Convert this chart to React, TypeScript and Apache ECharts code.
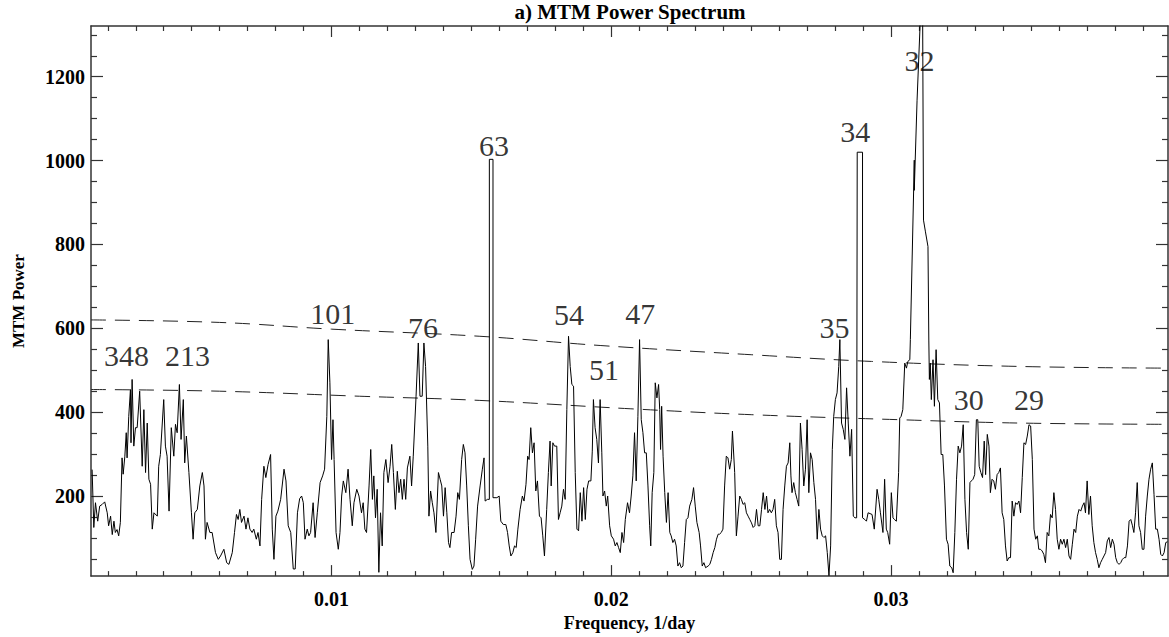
import { useEffect, useRef } from "react";
import * as echarts from "echarts";

const X_MIN = 0.0014;
const X_MAX = 0.0399;
const Y_MIN = 9;
const Y_MAX = 1321;

const X_MAJOR = [0.01, 0.02, 0.03];
const X_MINOR = [
  0.002, 0.003, 0.004, 0.005, 0.006, 0.007, 0.008, 0.009, 0.011, 0.012, 0.013,
  0.014, 0.015, 0.016, 0.017, 0.018, 0.019, 0.021, 0.022, 0.023, 0.024, 0.025,
  0.026, 0.027, 0.028, 0.029, 0.031, 0.032, 0.033, 0.034, 0.035, 0.036, 0.037,
  0.038, 0.039,
];
const Y_MAJOR = [200, 400, 600, 800, 1000, 1200];
const Y_MINOR = [
  50, 100, 150, 250, 300, 350, 450, 500, 550, 650, 700, 750, 850, 900, 950,
  1050, 1100, 1150, 1250, 1300,
];

const TITLE = "a) MTM Power Spectrum";
const X_NAME = "Frequency, 1/day";
const Y_NAME = "MTM Power";

// MTM power spectrum, [frequency (1/day), power]
const SPEC_A = [
  [0.00144, 263], [0.0015, 125], [0.00156, 184], [0.00164, 140], [0.00171, 176], [0.0018, 180],
  [0.00189, 186], [0.00198, 160], [0.00203, 129], [0.0021, 152], [0.00216, 108], [0.00222, 140],
  [0.00227, 113], [0.00233, 120], [0.00239, 105], [0.00245, 137], [0.00251, 291], [0.00255, 252],
  [0.00261, 295], [0.00266, 351], [0.00269, 291], [0.00275, 390], [0.00281, 454], [0.00283, 327],
  [0.00287, 478], [0.00293, 319], [0.00299, 363], [0.00305, 363], [0.00314, 450], [0.00323, 271],
  [0.00329, 406], [0.00335, 256], [0.00341, 374], [0.00347, 240], [0.00353, 228], [0.00359, 121],
  [0.00365, 160], [0.00377, 152], [0.00382, 271], [0.00388, 299], [0.004, 430], [0.00406, 319],
  [0.00412, 295], [0.00419, 164], [0.00427, 363], [0.00436, 295], [0.00442, 371], [0.00448, 351],
  [0.00456, 466], [0.00462, 335], [0.0047, 430], [0.00475, 279], [0.00481, 343], [0.0049, 256],
  [0.00499, 160], [0.00505, 97], [0.00511, 160], [0.0052, 168], [0.00529, 224], [0.00538, 256],
  [0.00544, 224], [0.00549, 97], [0.00555, 137], [0.00565, 113], [0.00573, 113], [0.00585, 65],
  [0.00595, 49], [0.00603, 57], [0.00615, 73], [0.00625, 41], [0.00633, 37], [0.00645, 65],
  [0.00653, 113], [0.0066, 156], [0.00666, 144], [0.00672, 168], [0.00678, 137], [0.00687, 152],
  [0.00694, 121], [0.00701, 148], [0.00708, 121], [0.00716, 113], [0.00722, 121], [0.00731, 97],
  [0.00737, 113], [0.00744, 81], [0.0075, 192], [0.00758, 271], [0.00765, 244], [0.00773, 275],
  [0.00782, 299], [0.00788, 121], [0.00794, 49], [0.00801, 152], [0.00808, 164], [0.00818, 192],
  [0.0083, 264], [0.00837, 236], [0.00845, 129], [0.00854, 113], [0.00863, 26], [0.0087, 26],
  [0.00878, 160], [0.00886, 194], [0.00893, 200], [0.00899, 184], [0.00905, 97], [0.00913, 121],
  [0.00919, 105], [0.00925, 113], [0.00934, 184], [0.00941, 101], [0.00949, 160], [0.00959, 232],
  [0.00968, 248], [0.00975, 264], [0.00983, 390], [0.00988, 573], [0.00994, 470], [0.01, 287],
  [0.01005, 382], [0.01009, 287], [0.01016, 113], [0.01024, 73], [0.0103, 113], [0.01036, 200],
  [0.01042, 236], [0.01051, 208], [0.01059, 264], [0.01066, 192], [0.01074, 129], [0.0108, 184],
  [0.0109, 216], [0.01098, 200],
];
const SPEC_B = [
  [0.01107, 160], [0.01113, 184], [0.01119, 121], [0.01125, 113], [0.01134, 224], [0.0114, 311],
  [0.01146, 192], [0.01151, 248], [0.01157, 148], [0.01163, 216], [0.01169, 18], [0.01175, 160],
  [0.01181, 81], [0.01187, 256], [0.01194, 287], [0.01202, 232], [0.01209, 271], [0.01215, 323],
  [0.01221, 256], [0.01228, 168], [0.01235, 259], [0.01241, 208], [0.01247, 240], [0.01253, 192],
  [0.01259, 240], [0.01265, 192], [0.01271, 267], [0.0128, 295], [0.01286, 224], [0.01292, 295],
  [0.01302, 438], [0.0131, 565], [0.01316, 438], [0.01324, 438], [0.0133, 565], [0.01336, 509],
  [0.01344, 319], [0.01348, 152], [0.01354, 212], [0.0136, 184], [0.01366, 160], [0.01373, 113],
  [0.01382, 256], [0.01388, 240], [0.01394, 224], [0.014, 152], [0.01406, 220], [0.01412, 160],
  [0.01418, 89], [0.01423, 77], [0.01429, 113], [0.01438, 113], [0.01445, 152], [0.01451, 208],
  [0.01457, 192], [0.01465, 287], [0.01471, 323], [0.01477, 303], [0.01483, 224], [0.01489, 129],
  [0.01495, 49], [0.01503, 25], [0.01509, 33], [0.01515, 97], [0.01522, 176], [0.01531, 224],
  [0.01539, 264], [0.01545, 291], [0.01549, 188], [0.01557, 192], [0.01564, 192], [0.01564, 1003],
  [0.01577, 1003], [0.01577, 196], [0.01591, 196], [0.01599, 200], [0.01605, 140], [0.01614, 132],
  [0.01623, 132], [0.01629, 113], [0.01635, 81], [0.01641, 57], [0.01648, 65], [0.01654, 81],
  [0.0166, 77], [0.01666, 121], [0.01674, 168], [0.01682, 200], [0.01688, 188], [0.01695, 228],
  [0.01701, 295], [0.01706, 287], [0.01712, 363], [0.01718, 303], [0.01724, 327], [0.0173, 212],
  [0.01736, 236], [0.01743, 152], [0.01749, 148], [0.01755, 105], [0.01761, 57], [0.01769, 168],
  [0.01775, 256], [0.01781, 331], [0.01785, 224], [0.01791, 327], [0.01797, 319], [0.01805, 319],
  [0.01811, 144], [0.01817, 160], [0.01823, 176], [0.01829, 216], [0.01835, 192], [0.01841, 406],
  [0.01847, 581], [0.01853, 509], [0.01859, 466], [0.01865, 462], [0.01871, 256], [0.01877, 121],
  [0.01883, 117], [0.01889, 208], [0.01895, 140], [0.01901, 220], [0.01907, 144], [0.01913, 216],
  [0.01919, 236], [0.01927, 236], [0.01932, 307], [0.01936, 430], [0.01942, 363], [0.01948, 335],
  [0.01954, 279], [0.0196, 430], [0.01966, 303], [0.0197, 200], [0.01976, 212], [0.01982, 176],
  [0.01987, 200], [0.01994, 129], [0.02, 105], [0.02008, 97], [0.02014, 81], [0.0202, 89],
  [0.02026, 77], [0.02032, 65], [0.02038, 113], [0.02044, 89], [0.0205, 144], [0.02058, 184],
  [0.02065, 160],
];
const SPEC_C = [
  [0.02071, 200], [0.02077, 248], [0.02083, 351], [0.02089, 236], [0.02095, 390], [0.02101, 573],
  [0.02107, 382], [0.02113, 351], [0.02119, 303], [0.02125, 303], [0.02131, 224], [0.02137, 129],
  [0.02141, 81], [0.02146, 208], [0.02152, 256], [0.02157, 470], [0.02163, 434], [0.02169, 466],
  [0.02173, 406], [0.02176, 311], [0.0218, 414], [0.02185, 295], [0.02191, 208], [0.02197, 137],
  [0.02203, 208], [0.02209, 113], [0.02214, 105], [0.0222, 89], [0.02226, 97], [0.02232, 81],
  [0.02238, 33], [0.02244, 41], [0.0225, 29], [0.02256, 33], [0.02262, 89], [0.02268, 144],
  [0.02274, 148], [0.0228, 176], [0.02288, 192], [0.02294, 220], [0.023, 176], [0.02306, 137],
  [0.02314, 113], [0.02319, 81], [0.02325, 33], [0.02331, 41], [0.02337, 29], [0.02346, 33],
  [0.02352, 37], [0.02358, 49], [0.02364, 65], [0.0237, 77], [0.02376, 97], [0.02382, 109],
  [0.02387, 109], [0.02393, 113], [0.02399, 121], [0.02405, 224], [0.02411, 295], [0.02417, 291],
  [0.02423, 264], [0.02429, 287], [0.02433, 355], [0.02441, 256], [0.02447, 105], [0.02453, 152],
  [0.02459, 200], [0.02465, 192], [0.02471, 180], [0.02477, 184], [0.02483, 160], [0.02489, 152],
  [0.02495, 144], [0.02501, 136], [0.02507, 125], [0.02513, 129], [0.02519, 168], [0.02525, 129],
  [0.02531, 129], [0.02537, 168], [0.02543, 208], [0.02549, 168], [0.02555, 200], [0.0256, 160],
  [0.02566, 168], [0.02572, 160], [0.02578, 168], [0.02584, 192], [0.0259, 129], [0.02596, 113],
  [0.02602, 49], [0.02608, 49], [0.02614, 168], [0.0262, 224], [0.02626, 271], [0.02632, 279],
  [0.02638, 327], [0.02642, 248], [0.02646, 208], [0.02652, 232], [0.02658, 208], [0.02664, 192],
  [0.0267, 176], [0.02676, 374], [0.02682, 311], [0.02688, 224], [0.02694, 264], [0.027, 382],
  [0.02706, 208], [0.02712, 303], [0.02718, 287], [0.02724, 232], [0.0273, 192], [0.02736, 97],
  [0.02742, 168], [0.02748, 121], [0.02754, 105], [0.0276, 101], [0.02766, 105], [0.02772, 65],
  [0.02778, 10], [0.02784, 81], [0.0279, 311], [0.02795, 390], [0.02801, 430], [0.02807, 446],
  [0.02813, 509], [0.02817, 573], [0.02823, 374], [0.02829, 359], [0.02835, 335], [0.02841, 458],
  [0.02847, 374], [0.02853, 295], [0.02859, 359], [0.02865, 152], [0.02871, 148], [0.02877, 148],
  [0.02879, 148], [0.02879, 1020], [0.02898, 1020], [0.02898, 148], [0.02906, 144], [0.02912, 140],
  [0.02918, 160],
];
const SPEC_D = [
  [0.02932, 156], [0.0294, 121], [0.0295, 216], [0.02956, 192], [0.02962, 160], [0.02971, 113],
  [0.02977, 240], [0.02983, 121], [0.02988, 113], [0.02995, 85], [0.03001, 208], [0.03007, 148],
  [0.03012, 144], [0.03019, 140], [0.03027, 256], [0.03031, 386], [0.03036, 390], [0.03042, 406],
  [0.03049, 517], [0.03055, 505], [0.0306, 521], [0.03067, 525], [0.03069, 573], [0.03081, 937],
  [0.03083, 1001], [0.03083, 929], [0.03093, 1144], [0.03103, 1310], [0.03108, 1450], [0.03113, 1330],
  [0.03116, 858], [0.03123, 830], [0.03132, 795], [0.03135, 572], [0.03137, 478], [0.0314, 517],
  [0.03144, 430], [0.0315, 525], [0.03155, 414], [0.03161, 549], [0.03167, 430], [0.03173, 422],
  [0.03179, 299], [0.03185, 299], [0.03191, 224], [0.03198, 97], [0.03204, 85], [0.0321, 33],
  [0.03217, 29], [0.03222, 17], [0.03228, 113], [0.03234, 240], [0.0324, 319], [0.03246, 303],
  [0.03252, 319], [0.03258, 370], [0.03264, 192], [0.0327, 113], [0.03276, 73], [0.03282, 232],
  [0.03287, 236], [0.03293, 240], [0.03299, 251], [0.03305, 382], [0.0331, 382], [0.03315, 271],
  [0.03321, 256], [0.03327, 244], [0.03333, 331], [0.03338, 251], [0.03344, 347], [0.0335, 319],
  [0.03355, 208], [0.03361, 240], [0.03367, 236], [0.03373, 216], [0.03379, 251], [0.03385, 256],
  [0.03391, 267], [0.03397, 160], [0.03403, 144], [0.03409, 81], [0.03415, 45], [0.03421, 53],
  [0.03427, 53], [0.03433, 188], [0.03439, 152], [0.03445, 184], [0.03451, 180], [0.03457, 188],
  [0.03463, 160], [0.03469, 244], [0.03475, 327], [0.03481, 323], [0.03487, 343], [0.03493, 370],
  [0.03499, 367], [0.03505, 287], [0.03511, 121], [0.03517, 97], [0.03523, 105], [0.03528, 73],
  [0.03534, 73], [0.0354, 69], [0.03546, 61], [0.03552, 41], [0.03558, 113], [0.03564, 105],
  [0.0357, 156], [0.03576, 148], [0.03582, 208], [0.03588, 168], [0.03594, 97], [0.036, 73],
  [0.03606, 97], [0.03612, 85], [0.03618, 97], [0.03624, 77], [0.0363, 97], [0.03636, 57],
  [0.03642, 49], [0.03648, 85], [0.03654, 121], [0.0366, 113], [0.03666, 152], [0.03672, 168],
  [0.03678, 164], [0.03684, 176], [0.0369, 184], [0.03695, 160], [0.03701, 236], [0.03707, 156],
  [0.03713, 200], [0.03719, 129], [0.03725, 89], [0.03731, 65], [0.03737, 49], [0.03743, 29],
  [0.03749, 41], [0.03755, 49], [0.03761, 57], [0.03767, 65], [0.03773, 93], [0.03779, 101],
  [0.03785, 77], [0.03791, 97], [0.03797, 85], [0.03803, 53], [0.03809, 41], [0.03815, 37],
  [0.03821, 41], [0.03827, 49], [0.03833, 53], [0.03839, 53], [0.03845, 81], [0.03851, 140],
  [0.03857, 144], [0.03863, 129], [0.03868, 113], [0.03874, 160], [0.0388, 232], [0.03886, 129],
  [0.03892, 113], [0.03898, 73], [0.03904, 73], [0.0391, 152], [0.03916, 200], [0.03922, 240],
  [0.03928, 264], [0.03934, 279], [0.0394, 204], [0.03946, 121], [0.03952, 121], [0.03958, 97],
  [0.03964, 61], [0.0397, 57], [0.03976, 65], [0.03982, 89], [0.03988, 91],
];

// significance levels (dashed)
const SIG_UPPER = [
  [0.0014, 620], [0.006, 614], [0.01, 598], [0.0153, 581], [0.0196, 559], [0.025, 537],
  [0.0293, 521], [0.0346, 509], [0.0399, 505],
];
const SIG_LOWER = [
  [0.0014, 454], [0.006, 450], [0.011, 438], [0.0153, 428], [0.0207, 408], [0.025, 394],
  [0.0303, 382], [0.0346, 374], [0.0399, 371],
];

// peak period labels (days), placed at [frequency, power]
const PEAK_NAMES = ["348", "213", "101", "76", "63", "54", "51", "47", "35", "34", "32", "30", "29"];
const PEAK_FREQ = [0.00267, 0.00485, 0.01004, 0.01327, 0.01581, 0.01849, 0.01974, 0.02103, 0.02798, 0.02872, 0.03102, 0.03278, 0.03493];
const PEAK_POS = [535, 535, 635, 601, 1037, 632, 501, 635, 601, 1070, 1239, 431, 431];

const SERIF = "'Liberation Serif', 'Times New Roman', 'DejaVu Serif', serif";
const AXIS_COLOR = "#333";

function xAxisDef(position: string, values: number[], len: number, labels: boolean, line: boolean) {
  return {
    type: "value",
    min: X_MIN,
    max: X_MAX,
    position,
    axisLine: { show: line, onZero: false, lineStyle: { color: AXIS_COLOR, width: 1.5 } },
    axisTick: { show: true, inside: true, length: len, customValues: values, lineStyle: { color: AXIS_COLOR, width: 1.2 } },
    axisLabel: labels
      ? {
          show: true,
          customValues: values,
          formatter: (v: number) => v.toFixed(2),
          fontFamily: SERIF,
          fontWeight: "bold",
          fontSize: 20,
          color: "#000",
          margin: 13,
        }
      : { show: false },
    splitLine: { show: false },
    name: labels ? X_NAME : "",
    nameLocation: "middle",
    nameGap: 33,
    nameTextStyle: { fontFamily: SERIF, fontWeight: "bold", fontSize: 18, color: "#000" },
  };
}

function yAxisDef(position: string, values: number[], len: number, labels: boolean, line: boolean) {
  return {
    type: "value",
    min: Y_MIN,
    max: Y_MAX,
    position,
    axisLine: { show: line, onZero: false, lineStyle: { color: AXIS_COLOR, width: 1.5 } },
    axisTick: { show: true, inside: true, length: len, customValues: values, lineStyle: { color: AXIS_COLOR, width: 1.2 } },
    axisLabel: labels
      ? {
          show: true,
          customValues: values,
          formatter: (v: number) => String(Math.round(v)),
          fontFamily: SERIF,
          fontWeight: "bold",
          fontSize: 20,
          color: "#000",
          margin: 6,
        }
      : { show: false },
    splitLine: { show: false },
    name: labels ? Y_NAME : "",
    nameLocation: "middle",
    nameGap: 64,
    nameTextStyle: { fontFamily: SERIF, fontWeight: "bold", fontSize: 17, color: "#000" },
  };
}

export default function App() {
  const ref = useRef<HTMLDivElement>(null);
  useEffect(() => {
    if (!ref.current) return;
    const chart = echarts.init(ref.current, null, { renderer: "svg" });
    const spectrum = [...SPEC_A, ...SPEC_B, ...SPEC_C, ...SPEC_D];
    const peaks = PEAK_NAMES.map((n, i) => ({ name: n, value: [PEAK_FREQ[i], PEAK_POS[i]] }));
    chart.setOption({
      animation: false,
      backgroundColor: "#fff",
      grid: { left: 91, right: 1, top: 26, bottom: 60, containLabel: false },
      xAxis: [
        xAxisDef("bottom", X_MAJOR, 11, true, true),
        xAxisDef("bottom", X_MINOR, 5, false, false),
        xAxisDef("top", X_MAJOR, 11, false, true),
        xAxisDef("top", X_MINOR, 5, false, false),
      ],
      yAxis: [
        yAxisDef("left", Y_MAJOR, 12, true, true),
        yAxisDef("left", Y_MINOR, 6, false, false),
        yAxisDef("right", Y_MAJOR, 12, false, true),
        yAxisDef("right", Y_MINOR, 6, false, false),
      ],
      graphic: [
        {
          type: "text",
          x: 630,
          y: 1,
          style: {
            text: TITLE,
            fontFamily: SERIF,
            fontWeight: "bold",
            fontSize: 21,
            fill: "#000",
            align: "center",
            verticalAlign: "top",
          },
        },
      ],
      series: [
        {
          type: "scatter",
          data: peaks,
          symbolSize: 1,
          itemStyle: { color: "rgba(0,0,0,0)" },
          label: {
            show: true,
            position: "inside",
            formatter: "{b}",
            fontFamily: SERIF,
            fontSize: 30,
            color: "#000",
            textBorderWidth: 0,
            textShadowBlur: 0,
          },
          silent: true,
          z: 1,
        },
        {
          type: "line",
          data: SIG_UPPER,
          smooth: 0.4,
          symbol: "none",
          lineStyle: { color: "#222", width: 1, type: [15, 9] },
          silent: true,
          z: 2,
        },
        {
          type: "line",
          data: SIG_LOWER,
          smooth: 0.4,
          symbol: "none",
          lineStyle: { color: "#222", width: 1, type: [15, 9] },
          silent: true,
          z: 2,
        },
        {
          type: "line",
          data: spectrum,
          symbol: "none",
          showSymbol: false,
          clip: true,
          lineStyle: { color: "#000", width: 1 },
          silent: true,
          z: 3,
        },
      ],
    });
    return () => chart.dispose();
  }, []);
  return (
    <div
      ref={ref}
      style={{ position: "absolute", left: 0, top: 0, width: 1169, height: 637, background: "#fff" }}
    />
  );
}
